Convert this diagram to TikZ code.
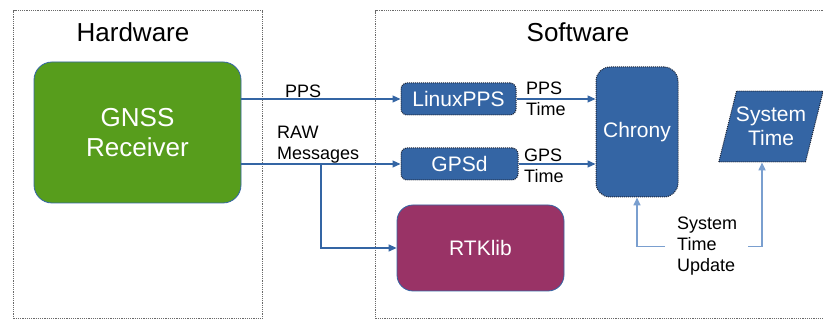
\documentclass[tikz,border=0pt]{standalone}
\usepackage{fontspec}
\setmainfont{Liberation Sans}
\usetikzlibrary{shapes,shapes.geometric,arrows.meta}

\definecolor{hwgreen}{HTML}{579D1C}
\definecolor{swblue}{HTML}{3465A4}
\definecolor{rtkpurple}{HTML}{993366}
\definecolor{updblue}{HTML}{7A9FCF}
\definecolor{framegray}{HTML}{6A6A6A}
\definecolor{dotborder}{HTML}{1E2638}

\begin{document}
\begin{tikzpicture}[x=1pt, y=-1pt, >={Triangle[length=8pt,width=7pt]},
      every node/.append style={inner sep=0pt, align=left, font=\fontsize{18}{21}\selectfont},
      link/.style={->, draw=swblue, line width=1.2pt},
      updlink/.style={->, draw=updblue, line width=1.6pt}]
    \tikzstyle{frame} = [draw=framegray, densely dotted, line width=1.2pt]
    \tikzstyle{title} = [font=\fontsize{26}{30}\selectfont]
    \tikzstyle{block} = [draw=swblue, line width=0.8pt, rounded corners=18pt, text=white, align=center, font=\fontsize{26}{30}\selectfont]
    \tikzstyle{proc} = [fill=swblue, draw=dotborder, densely dotted, line width=1pt, rounded corners=6pt, text=white, align=center, font=\fontsize{21}{24}\selectfont]
    \useasboundingbox (0,0) rectangle (823,320);
    \node (hw) [frame, minimum width=249pt, minimum height=308pt, anchor=north west] at (13,10) {};
    \node (sw) [frame, minimum width=460pt, minimum height=308pt, anchor=north west] at (375,10) {};
    \node (hwtitle) [title] at (133,32) {Hardware};
    \node (swtitle) [title] at (578,32) {Software};
    \node (gnss) [block, fill=hwgreen, minimum width=207pt, minimum height=141pt] at (137.5,132.5) {GNSS\\Receiver};
    \node (linuxpps) [proc, minimum width=115pt, minimum height=32pt] at (458.5,99) {LinuxPPS};
    \node (gpsd) [proc, minimum width=117pt, minimum height=32pt] at (459.5,164) {GPSd};
    \node (chrony) [proc, rounded corners=14pt, minimum width=82pt, minimum height=130pt] at (637,132) {Chrony};
    \node (systime) [proc, trapezium, trapezium left angle=76, trapezium right angle=104,
      rounded corners=0pt, inner xsep=-0.5pt, inner ysep=16pt] at (771,126.5) {System\\Time};
    \node (rtklib) [block, fill=rtkpurple, rounded corners=16pt, minimum width=167pt, minimum height=86pt, font=\fontsize{21}{24}\selectfont] at (480.5,248) {RTKlib};
    \node (ppslabel) [anchor=west] at (285,91) {PPS};
    \node (rawlabel) [anchor=west] at (277,145) {RAW\\Messages};
    \node (ppstime) [anchor=west] at (526,98.5) {PPS\\Time};
    \node (gpstime) [anchor=west] at (524,165.5) {GPS\\Time};
    \node (upd) [anchor=west] at (677,246.5) {System\\Time\\Update};
    \coordinate (rawsplit) at (321,164);
    \draw[link] (linuxpps.west -| gnss.east) -- (linuxpps.west);
    \draw[link] (gpsd.west -| gnss.east) -- (gpsd.west);
    \draw[link] (rawsplit) |- (rtklib.west);
    \draw[link] (linuxpps.east) -- (linuxpps.east -| chrony.west);
    \draw[link] (gpsd.east) -- (gpsd.east -| chrony.west);
    \draw[updlink] ([xshift=-12pt]upd.west) -| (chrony.south);
    \draw[updlink] ([xshift=11pt]upd.west -| upd.east) -| (systime.bottom side);
\end{tikzpicture}
\end{document}
